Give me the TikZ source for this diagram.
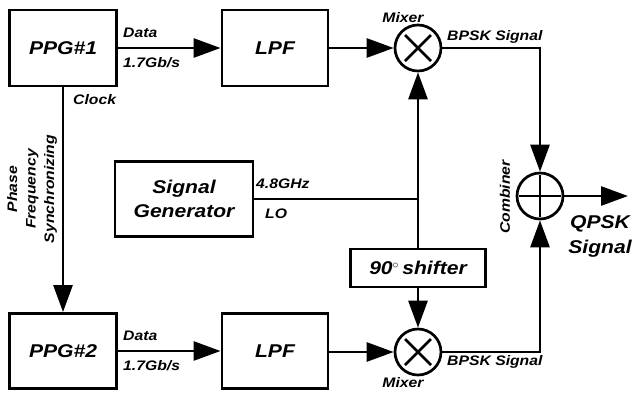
\documentclass[tikz,border=0pt]{standalone}
\usepackage{fontspec}
\setmainfont{Liberation Sans}[FakeStretch=1.14]
\usetikzlibrary{arrows.meta}
\tikzset{
  blk/.style={draw, line width=2.9pt, inner sep=0pt, font=\fontsize{18.5}{21}\selectfont\bfseries\itshape, align=center},
  circ/.style={draw, circle, line width=2.7pt, minimum size=46pt, inner sep=0pt},
  wire/.style={line width=2.8pt},
  arr/.style={line width=2.8pt, -{Triangle[length=27pt,width=19pt]}},
  lab/.style={font=\fontsize{13.8}{16}\selectfont\bfseries\itshape, inner sep=0pt},
  biglab/.style={font=\fontsize{18.5}{21}\selectfont\bfseries\itshape, inner sep=0pt},
}
\begin{document}
\begin{tikzpicture}[x=1pt,y=-1pt]
\useasboundingbox (0,0) rectangle (632,392);
% blocks
\node[blk, minimum width=107pt, minimum height=76pt] (p1) at (63,48) {PPG\#1};
\node[blk, minimum width=106pt, minimum height=76pt] (l1) at (275,48) {LPF};
\node[blk, minimum width=107pt, minimum height=75pt] (p2) at (63,351) {PPG\#2};
\node[blk, minimum width=106pt, minimum height=75pt] (l2) at (275,351) {LPF};
\node[blk, minimum width=138pt, minimum height=75pt] (sg) at (184,199) {Signal\\[3pt]Generator};
\node[blk, minimum width=135pt, minimum height=38pt] (sh) at (418,268) {90$^{\circ}$\,shifter};
% mixers and combiner
\node[circ] (m1) at (418,48) {};
\node[circ] (m2) at (418,352) {};
\node[circ] (cb) at (540,196) {};
\draw[wire] ([shift={(-13,-13)}]m1.center) -- ([shift={(13,13)}]m1.center);
\draw[wire] ([shift={(-13,13)}]m1.center) -- ([shift={(13,-13)}]m1.center);
\draw[wire] ([shift={(-13,-13)}]m2.center) -- ([shift={(13,13)}]m2.center);
\draw[wire] ([shift={(-13,13)}]m2.center) -- ([shift={(13,-13)}]m2.center);
\draw[wire] ([shift={(-21,0)}]cb.center) -- ([shift={(21,0)}]cb.center);
\draw[wire] ([shift={(0,-21)}]cb.center) -- ([shift={(0,21)}]cb.center);
% connectors
\coordinate (J) at (418,199);
\coordinate (out) at (628,196);
\draw[arr] (p1) -- (l1);
\draw[arr] (p2) -- (l2);
\draw[arr] (l1) -- (m1);
\draw[arr] (l2.east |- m2) -- (m2);
\draw[arr] (p1) -- (p2);
\draw[wire] (sg.east) -- (J);
\draw[arr] (J) -- (m1.south);
\draw[wire] (J) -- (sh.north);
\draw[arr] (sh.south) -- (m2.north);
\draw[arr] (m1.east) -| (cb.north);
\draw[arr] (m2.east) -| (cb.south);
\draw[arr] (cb.east) -- (out);
% labels
\node[lab, anchor=west] (d1) at (123,33) {Data};
\node[lab, anchor=west] (r1) at (123,63) {1.7Gb/s};
\node[lab, anchor=west] (d2) at (123,336) {Data};
\node[lab, anchor=west] (r2) at (123,366) {1.7Gb/s};
\node[lab, anchor=west] (ck) at (73,100) {Clock};
\node[lab, anchor=west] (f) at (256,184) {4.8GHz};
\node[lab, anchor=west] (lo) at (265,214) {LO};
\node[lab] (mx1) at (403,18) {Mixer};
\node[lab] (mx2) at (403,383) {Mixer};
\node[lab, anchor=west] (b1) at (447,37) {BPSK Signal};
\node[lab, anchor=west] (b2) at (447,362) {BPSK Signal};
\node[lab, rotate=90] (cl) at (505,197) {Combiner};
\node[biglab] (q1) at (600,224) {QPSK};
\node[biglab] (q2) at (600,249) {Signal};
\node[lab, rotate=90, align=center, font=\fontsize{13.8}{18.5}\selectfont\bfseries\itshape] (pfs) at (32,189) {Phase\\Frequency\\Synchronizing};
\end{tikzpicture}
\end{document}
